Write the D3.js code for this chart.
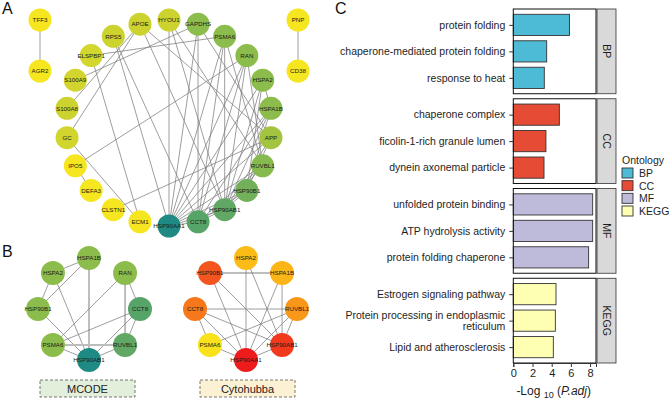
<!DOCTYPE html>
<html>
<head>
<meta charset="utf-8">
<script src="https://cdn.jsdelivr.net/npm/d3@7"></script>
<style>
body { margin: 0; background: #fff; }
text { font-family: "Liberation Sans", Arial, sans-serif; }
</style>
</head>
<body>
<svg id="fig" width="669" height="400"></svg>
<script>

// ---- panel A : PPI network ----
var ringGenes = ["HYOU1","GAPDHS","PSMA6","RAN","HSPA2","HSPA1B","APP","RUVBL1","HSP90B1","HSP90AB1","CCT8","HSP90AA1",
                 "ECM1","CLSTN1","DEFA3","IPO5","GC","S100A8","S100A9","ELSPBP1","RPS5","APOE"];
var ringScores = [3,6,6,6,6,6,5,6.3,7.5,8.5,9,14, 1,1,1,1,2.8,3,2.8,2.7,3,3];
var pairGenes = ["TFF3","AGR2","PNP","CD38"];
var pairScores = [1,1,1,1];
var ppiEdges = [
  ["TFF3","AGR2"],["PNP","CD38"],
  ["HYOU1","HSP90AA1"],["HYOU1","HSP90AB1"],["HYOU1","RUVBL1"],
  ["GAPDHS","HSP90AA1"],["GAPDHS","CCT8"],["GAPDHS","APP"],["GAPDHS","S100A9"],
  ["PSMA6","HSP90AA1"],["PSMA6","CCT8"],["PSMA6","HSP90AB1"],["PSMA6","RUVBL1"],["PSMA6","ELSPBP1"],
  ["RAN","HSP90AA1"],["RAN","CCT8"],["RAN","HSP90AB1"],["RAN","RUVBL1"],["RAN","IPO5"],
  ["HSPA2","HSP90AA1"],["HSPA2","HSPA1B"],["HSPA2","HSP90B1"],["HSPA2","HSP90AB1"],
  ["HSPA1B","HSP90AA1"],["HSPA1B","HSP90AB1"],["HSPA1B","HSP90B1"],["HSPA1B","CCT8"],
  ["APP","HSP90AA1"],["APP","HSP90AB1"],["APP","HSP90B1"],["APP","CLSTN1"],["APP","APOE"],
  ["RUVBL1","HSP90AA1"],["RUVBL1","CCT8"],["RUVBL1","HSP90AB1"],
  ["HSP90B1","HSP90AA1"],["HSP90B1","HSP90AB1"],["HSP90B1","CCT8"],
  ["HSP90AB1","HSP90AA1"],["HSP90AB1","CCT8"],["CCT8","HSP90AA1"],
  ["RPS5","CCT8"],["RPS5","HSP90AA1"],["ELSPBP1","ECM1"],["APOE","GC"],["APOE","S100A8"],
  ["GC","ECM1"],["IPO5","DEFA3"],["APOE","HSP90AB1"]
];

// ---- panel B : sub-networks ----
var mcodeGenes = ["HSPA1B","RAN","CCT8","RUVBL1","HSP90AB1","PSMA6","HSP90B1","HSPA2"];
var mcodeScores = [6,6,9,8.5,14,6,6,6];
var mcodeEdges = [
  ["HSPA2","HSPA1B",1],["HSPA2","HSP90B1",1],["HSP90B1","HSPA1B",1],["HSPA1B","HSP90AB1",2],
  ["HSPA2","HSP90AB1",1],["HSP90B1","HSP90AB1",1],["RAN","CCT8",1],["RAN","RUVBL1",2],
  ["RAN","PSMA6",1],["CCT8","PSMA6",1],["CCT8","RUVBL1",1],["CCT8","HSP90AB1",1],
  ["PSMA6","RUVBL1",2],["PSMA6","HSP90AB1",1],["RUVBL1","HSP90AB1",1]
];
var hubGenes = ["HSPA2","HSPA1B","RUVBL1","HSP90AB1","HSP90AA1","PSMA6","CCT8","HSP90B1"];
var hubRanks = [6.3,6,5,2,1,8,4,3];
var hubEdges = [
  ["HSP90B1","HSPA1B",2],["HSPA2","HSP90AA1",1],["HSPA2","HSP90AB1",1],["HSP90B1","HSP90AB1",1],
  ["HSP90B1","HSP90AA1",1],["HSPA1B","HSP90AA1",1],["HSPA1B","HSP90AB1",1],["CCT8","RUVBL1",1],
  ["CCT8","HSP90AB1",1],["CCT8","HSP90AA1",1],["CCT8","PSMA6",1],["RUVBL1","PSMA6",1],
  ["RUVBL1","HSP90AA1",1],["RUVBL1","HSP90AB1",1],["PSMA6","HSP90AA1",1],["HSP90AA1","HSP90AB1",1]
];

// ---- panel C : enrichment ----
var goTerms = ["protein folding","chaperone-mediated protein folding","response to heat",
               "chaperone complex","ficolin-1-rich granule lumen","dynein axonemal particle",
               "unfolded protein binding","ATP hydrolysis activity","protein folding chaperone",
               "Estrogen signaling pathway","Protein processing in endoplasmic reticulum","Lipid and atherosclerosis"];
var goOntology = ["BP","BP","BP","CC","CC","CC","MF","MF","MF","KEGG","KEGG","KEGG"];
var goValues = [5.85,3.48,3.23, 4.8,3.4,3.2, 8.27,8.27,7.85, 4.45,4.38,4.17];
var ontologies = ["BP","CC","MF","KEGG"];
var xTicks = [0,2,4,6,8];

var ontColor = d3.scaleOrdinal().domain(ontologies).range(["#4DBBD5","#E64B35","#BEBADA","#FFFFB3"]);
var degColor = d3.scaleLinear().domain([1,3,6,9,14])
    .range(["#f6e620","#cdd32e","#8cbc4b","#57a469","#1f8a84"]);
var rankColor = d3.scaleLinear().domain([1,3,4,6,8])
    .range(["#ee1b1c","#f2561e","#f7781a","#fbb517","#f9e21c"]);

var svg = d3.select("#fig");

// panel letters
svg.append("text").attr("x", 2).attr("y", 14).style("font-size", "16px").style("fill", "#111").text("A");
svg.append("text").attr("x", 2).attr("y", 257).style("font-size", "16px").style("fill", "#111").text("B");
svg.append("text").attr("x", 335).attr("y", 14).style("font-size", "16px").style("fill", "#111").text("C");

function drawNet(g, nodes, edges, nodeR, fontSize) {
    var pos = {};
    nodes.forEach(function(n){ pos[n.id] = n; });
    g.selectAll("line").data(edges).join("line")
        .attr("x1", function(d){ return pos[d[0]].x; })
        .attr("y1", function(d){ return pos[d[0]].y; })
        .attr("x2", function(d){ return pos[d[1]].x; })
        .attr("y2", function(d){ return pos[d[1]].y; })
        .style("stroke", function(d){ return d[2] == 2 ? "#bdbdbd" : "#7d7d7d"; })
        .style("stroke-width", function(d){ return d[2] == 2 ? 2 : 0.75; });
    var ng = g.selectAll("g.node").data(nodes).join("g").attr("class", "node")
        .attr("transform", function(d){ return "translate(" + d.x + "," + d.y + ")"; });
    ng.append("circle").attr("r", nodeR).attr("fill", function(d){ return d.color; });
    ng.append("text")
        .attr("text-anchor", "middle")
        .attr("dy", "0.35em")
        .style("font-size", fontSize + "px")
        .style("fill", "#1a1a1a")
        .text(function(d){ return d.id; });
}

// A
var aCx = 169, aCy = 123, aR = 103;
var ringAngle = d3.scaleLinear().domain([0, ringGenes.length]).range([0, 2 * Math.PI]);
var aNodes = ringGenes.map(function(id, i){
    var p = d3.pointRadial(ringAngle(i), aR);
    return {id: id, x: aCx + p[0], y: aCy + p[1], color: degColor(ringScores[i])};
});
var pairX = d3.scalePoint().domain([0, 1]).range([aCx - 129, aCx + 129]);
var pairY = d3.scalePoint().domain([0, 1]).range([aCy - 103, aCy - 52]);
pairGenes.forEach(function(id, i){
    aNodes.push({id: id, x: pairX(Math.floor(i / 2)), y: pairY(i % 2), color: degColor(pairScores[i])});
});
drawNet(svg.append("g"), aNodes, ppiEdges, 11.5, 6.2);

// B
function ringNodes(genes, cx, cy, r, colorOf) {
    var ang = d3.scaleLinear().domain([0, genes.length]).range([0, 2 * Math.PI]);
    return genes.map(function(id, i){
        var p = d3.pointRadial(ang(i), r);
        return {id: id, x: cx + p[0], y: cy + p[1], color: colorOf(i)};
    });
}
drawNet(svg.append("g"), ringNodes(mcodeGenes, 89, 309, 51, function(i){ return degColor(mcodeScores[i]); }), mcodeEdges, 12, 6.2);
drawNet(svg.append("g"), ringNodes(hubGenes, 246, 309, 51, function(i){ return rankColor(hubRanks[i]); }), hubEdges, 12, 6.2);

var boxes = [{label: "MCODE", x: 40, fill: "#e3efda"}, {label: "Cytohubba", x: 200, fill: "#fdf1d3"}];
boxes.forEach(function(b){
    svg.append("rect").attr("x", b.x).attr("y", 380).attr("width", 95).attr("height", 17)
        .attr("fill", b.fill).attr("stroke", "#555").attr("stroke-width", 0.8).attr("stroke-dasharray", "3,2");
    svg.append("text").attr("x", b.x + 47.5).attr("y", 392.5).attr("text-anchor", "middle")
        .style("font-size", "11px").style("fill", "#222").text(b.label);
});

// C
var px0 = 513.3, px1 = 596, stripW = 19;
var x = d3.scaleLinear().domain([0, d3.max(goValues) * 1.042]).range([px0, px1]);
var facetY = d3.scaleBand().domain(ontologies).range([9, 363]).paddingInner(0.056);
var gc = svg.append("g");

ontologies.forEach(function(ont){
    var terms = goTerms.filter(function(t, i){ return goOntology[i] == ont; });
    var vals = goValues.filter(function(v, i){ return goOntology[i] == ont; });
    var top = facetY(ont), bh = facetY.bandwidth();
    var y = d3.scalePoint().domain(terms).range([top, top + bh]).padding(0.6);
    var barH = y.step() * 0.8;

    gc.append("rect").attr("x", px0).attr("y", top).attr("width", px1 - px0).attr("height", bh)
        .attr("fill", "#fff");
    gc.selectAll(null).data(terms).enter().append("rect")
        .attr("x", x(0))
        .attr("y", function(d){ return y(d) - barH / 2; })
        .attr("width", function(d, i){ return x(vals[i]) - x(0); })
        .attr("height", barH)
        .attr("fill", ontColor(ont))
        .attr("stroke", "#333").attr("stroke-width", 0.9);
    gc.append("rect").attr("x", px0).attr("y", top).attr("width", px1 - px0).attr("height", bh)
        .attr("fill", "none").attr("stroke", "#111").attr("stroke-width", 1);

    // y axis
    var ax = gc.append("g").attr("transform", "translate(" + px0 + ",0)")
        .call(d3.axisLeft(y).tickSize(4).tickPadding(3).tickFormat(""));
    ax.select(".domain").remove();
    ax.selectAll("line").attr("stroke", "#333");
    terms.forEach(function(t){
        var lines = t == "Protein processing in endoplasmic reticulum" ? ["Protein processing in endoplasmic", "reticulum"] : [t];
        var tx = gc.append("text").attr("x", px0 - 8).attr("text-anchor", "end")
            .style("font-size", "10.5px").style("fill", "#1e1e1e");
        lines.forEach(function(l, k){
            tx.append("tspan").attr("x", px0 - 8)
                .attr("y", y(t) + 3.7 + (k - (lines.length - 1) / 2) * 11.5).text(l);
        });
    });

    // strip
    gc.append("rect").attr("x", px1 + 1).attr("y", top).attr("width", stripW).attr("height", bh)
        .attr("fill", "#d9d9d9").attr("stroke", "#333").attr("stroke-width", 0.8);
    gc.append("text")
        .attr("transform", "translate(" + (px1 + 1 + stripW / 2) + "," + (top + bh / 2) + ") rotate(90)")
        .attr("text-anchor", "middle").attr("dy", "0.35em")
        .style("font-size", "10.5px").style("fill", "#1e1e1e").text(ont);
});

var xa = gc.append("g").attr("transform", "translate(0,363)")
    .call(d3.axisBottom(x).tickValues(xTicks).tickSize(4).tickPadding(2));
xa.select(".domain").attr("stroke", "#333");
xa.selectAll("line").attr("stroke", "#333");
xa.selectAll("text").style("font-size", "11px").style("fill", "#1e1e1e")
    .style("font-family", "Liberation Sans, Arial, sans-serif");

var xt = gc.append("text").attr("x", (px0 + px1) / 2 - 1).attr("y", 395).attr("text-anchor", "middle")
    .style("font-size", "12px").style("fill", "#1e1e1e");
xt.append("tspan").text("-Log ");
xt.append("tspan").attr("dy", 3).style("font-size", "9px").text("10");
xt.append("tspan").attr("dy", -3).text(" (");
xt.append("tspan").style("font-style", "italic").text("P.adj");
xt.append("tspan").text(")");

// legend
var lg = svg.append("g").attr("transform", "translate(622,0)");
lg.append("text").attr("x", 0).attr("y", 164).style("font-size", "10.5px").style("fill", "#1e1e1e").text("Ontology");
var ly = d3.scalePoint().domain(ontologies).range([173, 211]);
lg.selectAll("rect").data(ontologies).join("rect")
    .attr("x", 0).attr("y", function(d){ return ly(d) - 5; })
    .attr("width", 11).attr("height", 10)
    .attr("fill", function(d){ return ontColor(d); })
    .attr("stroke", "#333").attr("stroke-width", 0.9);
lg.selectAll("text.k").data(ontologies).join("text").attr("class", "k")
    .attr("x", 17).attr("y", function(d){ return ly(d) + 4; })
    .style("font-size", "10.5px").style("fill", "#1e1e1e").text(function(d){ return d; });

</script>
</body>
</html>
